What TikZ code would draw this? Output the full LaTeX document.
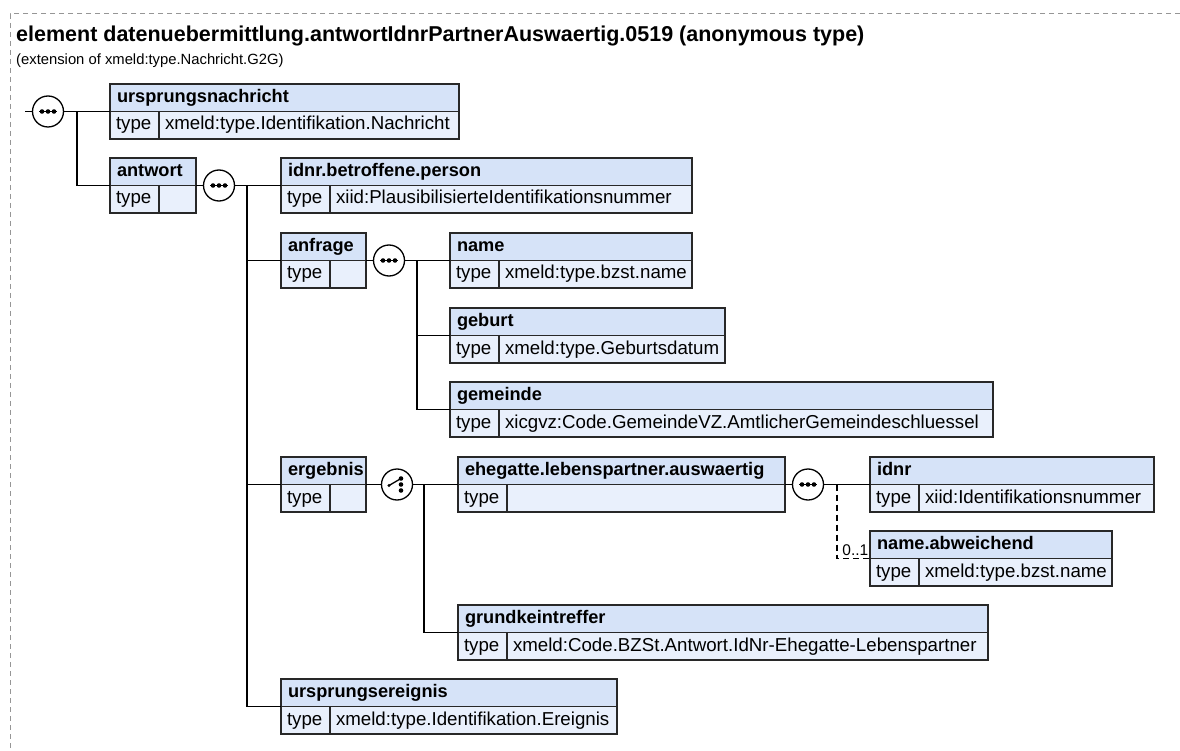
\documentclass[tikz,border=0pt]{standalone}
\usepackage{fontspec}
\setmainfont{Liberation Sans}
\definecolor{hdrfill}{RGB}{214,227,248}
\definecolor{valfill}{RGB}{233,240,252}
\definecolor{bordc}{RGB}{40,40,40}
\definecolor{framec}{RGB}{150,150,150}
\tikzset{
  hdr/.style={draw=bordc, fill=hdrfill, line width=1.3pt, anchor=north west,
    minimum height=27.5pt, inner xsep=7pt, inner ysep=0pt, outer sep=0pt,
    text height=13.5pt, text depth=4pt, align=left,
    font=\fontsize{18.2}{21}\selectfont\bfseries},
  typ/.style={draw=bordc, fill=valfill, line width=1.3pt, anchor=north west,
    minimum height=27.5pt, inner xsep=6pt, inner ysep=0pt, outer sep=0pt,
    text height=13.5pt, text depth=4pt, text width=37pt, align=left,
    font=\fontsize{18.7}{21}\selectfont},
  val/.style={typ},
  conn/.style={line width=1.3pt, draw=black},
  optconn/.style={line width=1.3pt, draw=black, dash pattern=on 6pt off 4pt},
  compo/.style={circle, draw=black, fill=white, line width=1.3pt,
    minimum size=31pt, inner sep=0pt, outer sep=0pt},
}
\newcommand\xsdel[6]{%
  \pgfmathsetmacro\hw{#4-14}%
  \pgfmathsetmacro\vw{#4-49-12}%
  \node[hdr, text width=\hw pt] (#1) at (#2,#3) {#5};
  \node[typ] (#1t) at (#1.south west) {type};
  \node[val, text width=\vw pt] (#1v) at (#1t.north east) {#6};
}
\newcommand\seqicon[3]{%
  \node[compo] (#1) at (#2,#3) {};
  \draw[line width=1.3pt] ([xshift=-9pt]#1.center) -- ([xshift=9pt]#1.center);
  \foreach \dx in {-6,0,6} {\fill ([xshift=\dx pt]#1.center) circle (2.3pt);}
}
\newcommand\choiceicon[3]{%
  \node[compo] (#1) at (#2,#3) {};
  \draw[line width=1.3pt] ([shift={(-8pt,-1pt)}]#1.center) -- ([shift={(4pt,6pt)}]#1.center);
  \fill ([shift={(-8pt,-1pt)}]#1.center) circle (1.6pt);
  \foreach \dy in {-6,0,6} {\fill ([shift={(4pt,\dy pt)}]#1.center) circle (2.3pt);}
}
\begin{document}
\begin{tikzpicture}[x=1pt,y=-1pt]
\useasboundingbox (0,0) rectangle (1180,751);
\draw[framec, line width=1pt, dash pattern=on 5pt off 4pt] (1180,14) -- (10,14) -- (10,751);

\node[anchor=base west, inner sep=0pt, font=\fontsize{21.5}{24}\selectfont\bfseries] (title) at (16,42)
  {element datenuebermittlung.antwortIdnrPartnerAuswaertig.0519 (anonymous type)};
\node[anchor=base west, inner sep=0pt, font=\fontsize{14.8}{17}\selectfont] (subtitle) at (16,65)
  {(extension of xmeld:type.Nachricht.G2G)};

% boxes
\xsdel{un}{110}{84}{349}{ursprungsnachricht}{xmeld:type.Identifikation.Nachricht}
\xsdel{an}{110}{158}{86}{antwort}{}
\xsdel{idb}{281}{158}{411}{idnr.betroffene.person}{xiid:PlausibilisierteIdentifikationsnummer}
\xsdel{anf}{281}{233}{85}{anfrage}{}
\xsdel{nm}{450}{233}{242}{name}{xmeld:type.bzst.name}
\xsdel{geb}{450}{308}{275}{geburt}{xmeld:type.Geburtsdatum}
\xsdel{gem}{450}{382}{543}{gemeinde}{xicgvz:Code.GemeindeVZ.AmtlicherGemeindeschluessel}
\xsdel{erg}{281}{457}{85}{ergebnis}{}
\xsdel{ehe}{458}{457}{327}{ehegatte.lebenspartner.auswaertig}{}
\xsdel{idn}{870}{457}{284}{idnr}{xiid:Identifikationsnummer}
\xsdel{nab}{870}{531}{242}{name.abweichend}{xmeld:type.bzst.name}
\xsdel{gkt}{458}{605}{530}{grundkeintreffer}{xmeld:Code.BZSt.Antwort.IdNr-Ehegatte-Lebenspartner}
\xsdel{ue}{281}{679}{336}{ursprungsereignis}{xmeld:type.Identifikation.Ereignis}

% compositors
\seqicon{s0}{48}{111.5}
\seqicon{s1}{219}{185.5}
\seqicon{s2}{389}{260.5}
\choiceicon{c1}{397}{484.5}
\seqicon{s3}{808}{484.5}

% connectors
\coordinate (rin) at (25,111.5);
\coordinate (b0) at (77,111.5);
\coordinate (b1) at (247,185.5);
\coordinate (b2) at (417,260.5);
\coordinate (b3) at (424,484.5);
\coordinate (b4) at (837,484.5);

\draw[conn] (rin) -- (s0.west);
\draw[conn] (s0.east) -- (un.south west);
\draw[conn] (b0) |- (an.south west);

\draw[conn] (anv.north east) -- (s1.west);
\draw[conn] (s1.east) -- (idb.south west);
\draw[conn] (b1) |- (anf.south west);
\draw[conn] (b1) |- (erg.south west);
\draw[conn] (b1) |- (ue.south west);

\draw[conn] (anfv.north east) -- (s2.west);
\draw[conn] (s2.east) -- (nm.south west);
\draw[conn] (b2) |- (geb.south west);
\draw[conn] (b2) |- (gem.south west);

\draw[conn] (ergv.north east) -- (c1.west);
\draw[conn] (c1.east) -- (ehe.south west);
\draw[conn] (b3) |- (gkt.south west);

\draw[conn] (ehev.north east) -- (s3.west);
\draw[conn] (s3.east) -- (idn.south west);
\draw[optconn] (b4) |- (nab.south west);
\node[anchor=base east, inner xsep=1.5pt, inner ysep=0pt, font=\fontsize{15.5}{17}\selectfont] (card) at ([yshift=3pt]nab.south west) {0..1};
\end{tikzpicture}
\end{document}
